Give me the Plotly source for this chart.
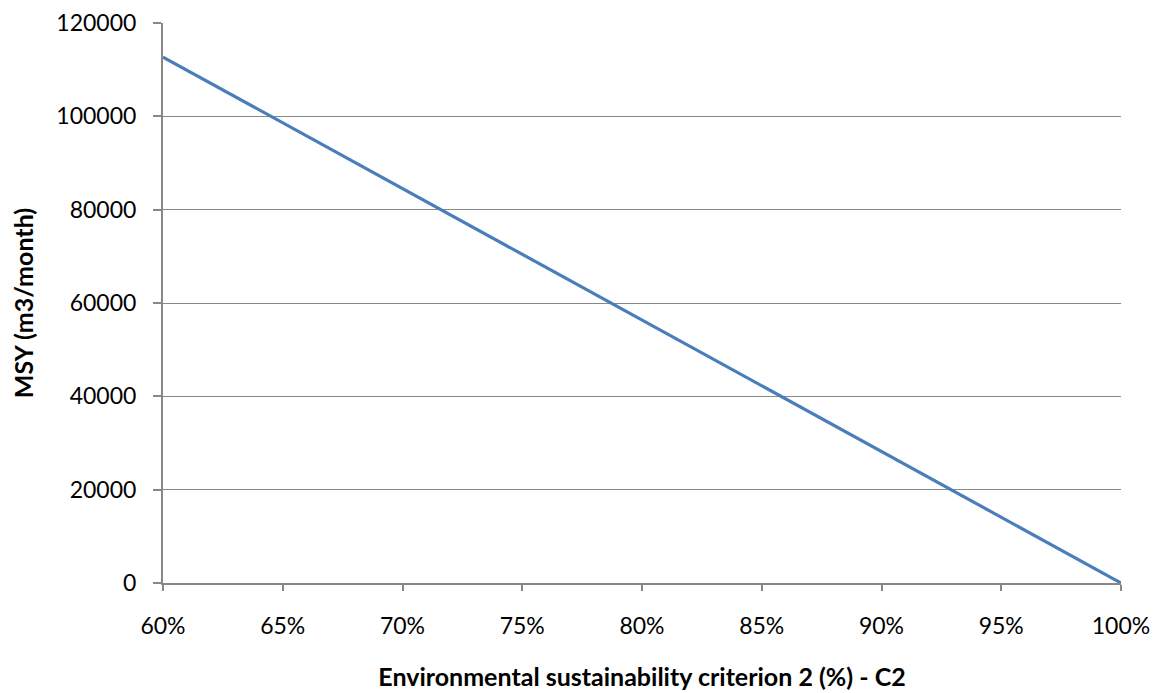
import plotly.graph_objects as go

x_vals = [0.60, 0.65, 0.70, 0.75, 0.80, 0.85, 0.90, 0.95, 1.00]
msy_vals = [112700, 98600, 84500, 70400, 56300, 42200, 28200, 14100, 0]

x_ticks = [0.60, 0.65, 0.70, 0.75, 0.80, 0.85, 0.90, 0.95, 1.00]
x_tick_labels = ["60%", "65%", "70%", "75%", "80%", "85%", "90%", "95%", "100%"]
y_ticks = [0, 20000, 40000, 60000, 80000, 100000, 120000]

font_family = "Lato, Open Sans, sans-serif"

fig = go.Figure()
fig.add_trace(go.Scatter(
    x=x_vals, y=msy_vals, mode="lines",
    line=dict(color="#4A7EBB", width=3.2),
    showlegend=False,
))

fig.update_layout(
    width=1159, height=693,
    margin=dict(l=155, r=46, t=15, b=118),
    paper_bgcolor="white", plot_bgcolor="white",
    font=dict(family=font_family, size=23, color="black"),
    xaxis=dict(
        range=[0.60, 1.00], tickvals=x_ticks, ticktext=x_tick_labels,
        showgrid=False, showline=True, linecolor="#888888", linewidth=2,
        ticks="outside", ticklen=6, tickcolor="#888888", tickwidth=2,
        ticklabelstandoff=15, automargin=False,
        zeroline=False,
        title=dict(text="<b>Environmental sustainability criterion 2 (%) - C2</b>",
                   font=dict(size=25), standoff=31),
    ),
    yaxis=dict(
        range=[0, 120000], tickvals=y_ticks, tickformat="d",
        showgrid=True, gridcolor="#888888", gridwidth=1,
        showline=True, linecolor="#888888", linewidth=2,
        ticks="outside", ticklen=8, tickcolor="#888888", tickwidth=2,
        ticklabelstandoff=12, automargin=False,
        zeroline=False,
        title=dict(text="<b>MSY (m3/month)</b>", font=dict(size=25), standoff=26),
    ),
)

fig.write_html("out.html")
